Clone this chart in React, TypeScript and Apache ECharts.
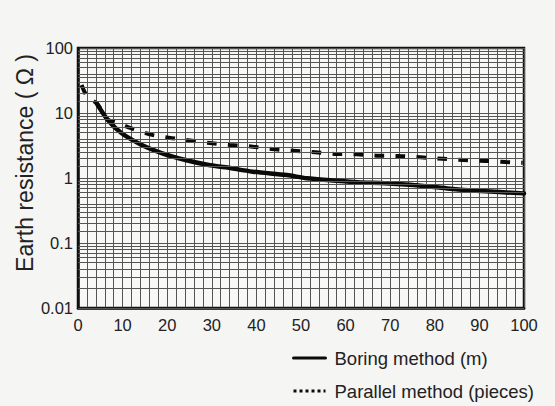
import React, { useEffect, useRef } from 'react';
import * as echarts from 'echarts';

// Boring method (m): x = length, y = earth resistance (Ω)
const boringX = [4.2, 6.7, 9.8, 14.3, 18.9, 24.1, 29.3, 33.1, 39.2, 46.8, 51.3, 58, 63.3, 67.8, 75.2, 82.8, 90.3, 100];
const boringY = [14.1, 7.8, 4.87, 3.22, 2.4, 1.89, 1.58, 1.46, 1.25, 1.11, 0.99, 0.91, 0.85, 0.84, 0.78, 0.69, 0.63, 0.58];

// Parallel method (pieces)
const parallelX = [0.8, 2.25, 4.2, 6.7, 8.3, 11.7, 16.6, 21.1, 25.6, 30.1, 34, 39.2, 43.4, 48.2, 53.2, 58, 62.5, 67, 71.8, 76.8, 81.7, 86.5, 91.4, 95.9, 99.7];
const parallelY = [27, 17, 14.1, 7.8, 7.35, 5.9, 4.6, 4.1, 3.75, 3.42, 3.22, 3.03, 2.79, 2.63, 2.48, 2.34, 2.32, 2.2, 2.18, 2.08, 1.98, 1.89, 1.83, 1.76, 1.72];

const yTickValues = [0.01, 0.1, 1, 10, 100];
const yTickLabels = ['0.01', '0.1', '1', '10', '100'];
const xTickLabels = ['0', '10', '20', '30', '40', '50', '60', '70', '80', '90', '100'];

// log-paper minor grid values inside each decade
const decadeStarts = [0.01, 0.1, 1, 10];
const minorMultipliers = [1.5, 2, 2.5, 3, 3.5, 4, 5, 6, 7, 8, 9];

const seriesNames = ['Boring method (m)', 'Parallel method (pieces)'];
const yTitle = 'Earth resistance ( Ω )';

const FONT = "'Liberation Sans', Arial, Helvetica, sans-serif";

export default function App() {
  const ref = useRef<HTMLDivElement>(null);
  useEffect(() => {
    if (!ref.current) return;
    const chart = echarts.init(ref.current, null, { renderer: 'svg' });
    const minorValues: number[] = [];
    decadeStarts.forEach((d) => minorMultipliers.forEach((m) => minorValues.push(d * m)));
    const gridColor = '#555';
    chart.setOption({
      animation: false,
      backgroundColor: '#f5f5f4',
      grid: {
        left: 78,
        right: 31,
        top: 48,
        bottom: 98,
        show: true,
        backgroundColor: '#f8f8f7',
        borderColor: '#111',
        borderWidth: 2.5,
        z: 0,
      },
      xAxis: {
        type: 'value',
        min: 0,
        max: 100,
        interval: 10,
        axisLine: { show: true, lineStyle: { color: '#111', width: 2.5 } },
        axisTick: { show: false },
        axisLabel: {
          fontFamily: FONT,
          fontSize: 16.5,
          color: '#222',
          margin: 8,
          formatter: (v: number) => xTickLabels[Math.round(v / 10)] ?? '',
        },
        splitLine: { show: true, lineStyle: { color: gridColor, width: 1 } },
        minorTick: { show: false, splitNumber: 5 },
        minorSplitLine: { show: true, lineStyle: { color: gridColor, width: 1 } },
      },
      yAxis: {
        type: 'log',
        logBase: 10,
        min: 0.01,
        max: 100,
        axisLine: { show: true, lineStyle: { color: '#111', width: 2.5 } },
        axisTick: { show: false },
        axisLabel: {
          fontFamily: FONT,
          fontSize: 16.5,
          color: '#222',
          margin: 5,
          formatter: (v: number) => {
            const i = yTickValues.findIndex((t) => Math.abs(Math.log10(t) - Math.log10(v)) < 1e-6);
            return i >= 0 ? yTickLabels[i] : '';
          },
        },
        splitLine: { show: true, lineStyle: { color: gridColor, width: 1 } },
      },
      legend: {
        orient: 'vertical',
        left: 292,
        top: 347,
        padding: 0,
        itemWidth: 32,
        itemHeight: 14,
        itemGap: 11,
        itemStyle: { opacity: 0, borderWidth: 0 },
        textStyle: { fontFamily: FONT, fontSize: 18.5, color: '#222', lineHeight: 22, padding: [0, 0, 0, 4] },
        data: [
          { name: seriesNames[0], lineStyle: { width: 3 } },
          { name: seriesNames[1], lineStyle: { type: [3, 3], width: 3 } },
        ],
      },
      graphic: [
        {
          type: 'text',
          x: 25,
          y: 163,
          rotation: Math.PI / 2,
          style: {
            text: yTitle,
            font: `23px ${FONT}`,
            fill: '#222',
            align: 'center',
            verticalAlign: 'middle',
          },
        },
      ],
      series: [
        {
          type: 'line',
          name: 'minor-grid',
          data: [],
          silent: true,
          z: 1,
          markLine: {
            silent: true,
            symbol: ['none', 'none'],
            label: { show: false },
            emphasis: { disabled: true },
            lineStyle: { color: gridColor, width: 1, type: 'solid' },
            data: minorValues.map((v) => ({ yAxis: v })),
          },
        },
        {
          type: 'line',
          name: seriesNames[0],
          data: boringX.map((x, i) => [x, boringY[i]]),
          symbol: 'none',
          smooth: 0.3,
          z: 3,
          lineStyle: { color: '#0a0a0a', width: 4.5, cap: 'round' },
          itemStyle: { color: '#0a0a0a' },
        },
        {
          type: 'line',
          name: seriesNames[1],
          data: parallelX.map((x, i) => [x, parallelY[i]]),
          symbol: 'none',
          smooth: 0.3,
          z: 4,
          lineStyle: { color: '#0a0a0a', width: 4, type: [10, 11] },
          itemStyle: { color: '#0a0a0a' },
        },
      ],
    });
    return () => chart.dispose();
  }, []);
  return <div ref={ref} style={{ width: 555, height: 406, position: 'absolute', left: 0, top: 0 }} />;
}
